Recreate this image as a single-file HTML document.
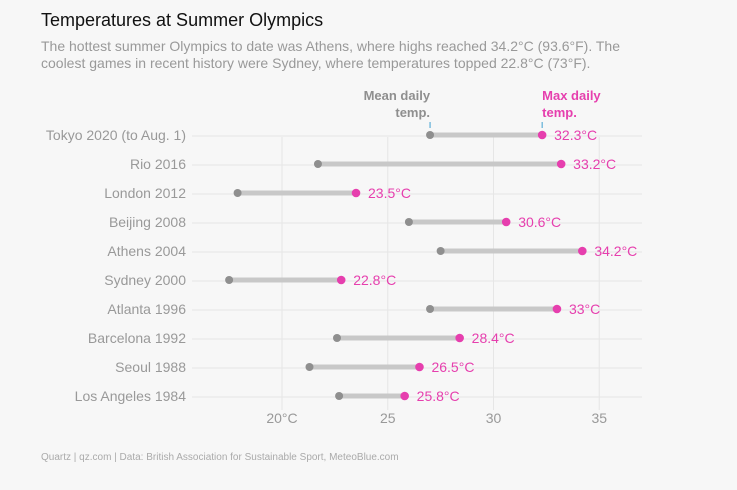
<!DOCTYPE html>
<html><head><meta charset="utf-8"><style>
body{margin:0;background:#f7f7f7;font-family:"Liberation Sans",sans-serif;}
#wrap{position:relative;width:737px;height:490px;overflow:hidden;background:#f7f7f7}
h1{position:absolute;left:41px;top:10px;margin:0;font-size:18px;font-weight:normal;color:#111}
.sub{position:absolute;left:41px;top:38px;width:690px;font-size:14px;line-height:17px;color:#999;white-space:nowrap}
.foot{position:absolute;left:41px;top:452px;font-size:10px;color:#aaa}
</style></head><body>
<div id="wrap">
<h1>Temperatures at Summer Olympics</h1>
<div class="sub">The hottest summer Olympics to date was Athens, where highs reached 34.2°C (93.6°F). The<br>coolest games in recent history were Sydney, where temperatures topped 22.8°C (73°F).</div>
<svg id="chart" width="737" height="490" style="position:absolute;left:0;top:0"></svg>
<div class="foot">Quartz | qz.com | Data: British Association for Sustainable Sport, MeteoBlue.com</div>
</div>
<script>
const games=["Tokyo 2020 (to Aug. 1)","Rio 2016","London 2012","Beijing 2008","Athens 2004","Sydney 2000","Atlanta 1996","Barcelona 1992","Seoul 1988","Los Angeles 1984"];
const meanTemp=[27.0,21.7,17.9,26.0,27.5,17.5,27.0,22.6,21.3,22.7];
const maxTemp=[32.3,33.2,23.5,30.6,34.2,22.8,33,28.4,26.5,25.8];
const maxLabels=["32.3°C","33.2°C","23.5°C","30.6°C","34.2°C","22.8°C","33°C","28.4°C","26.5°C","25.8°C"];
const ticks=[20,25,30,35];
const tickLabels=["20°C","25","30","35"];

const NS="http://www.w3.org/2000/svg";
const svg=document.getElementById('chart');
const x=v=>282+(v-20)*21.15;
const y=i=>135+i*29.0;
function mk(t,a){const e=document.createElementNS(NS,t);for(const k in a)e.setAttribute(k,a[k]);svg.appendChild(e);return e;}
ticks.forEach((t,i)=>{
  const g=mk('line',{x1:x(t),x2:x(t),y1:137,y2:410,stroke:'#e6e6e6','stroke-width':1});
  
  
  const l=mk('text',{x:x(t),y:423,'text-anchor':'middle','font-size':14,fill:'#999'});
  l.textContent=tickLabels[i];
  
  
});
games.forEach((g,i)=>{
  const yy=y(i);
  const h=mk('line',{x1:192,x2:642,y1:yy+1,y2:yy+1,stroke:'#e6e6e6','stroke-width':1});
  
  
  const lab=mk('text',{x:186,y:yy+5,'text-anchor':'end','font-size':14,fill:'#999'});
  lab.textContent=g;
  
  
  const bar=mk('line',{x1:x(meanTemp[i]),x2:x(maxTemp[i]),y1:yy,y2:yy,stroke:'#c8c8c8','stroke-width':5});
  
  
  const m=mk('circle',{cx:x(meanTemp[i]),cy:yy,r:4,fill:'#8f8f8f'});
  
  
  const mx=mk('circle',{cx:x(maxTemp[i]),cy:yy,r:4.3,fill:'#e63fae'});
  
  
  const v=mk('text',{x:x(maxTemp[i])+12,y:yy+5,'font-size':14,fill:'#e63fae'});
  v.textContent=maxLabels[i];
  
  
});
[[x(meanTemp[0]),'#8f8f8f',['Mean daily','temp.'],'end','mean-legend'],[x(maxTemp[0]),'#e63fae',['Max daily','temp.'],'start','max-legend']].forEach(a=>{
  const tk=mk('line',{x1:a[0],x2:a[0],y1:122,y2:128,stroke:'#3fa0d0','stroke-width':1});
  
  
  a[2].forEach((s,j)=>{
    const t=mk('text',{x:a[0],y:100+j*17,'text-anchor':a[3],'font-size':13,'font-weight':'bold',fill:a[1]});
    t.textContent=s;
    
    
  });
});
</script>
</body></html>
